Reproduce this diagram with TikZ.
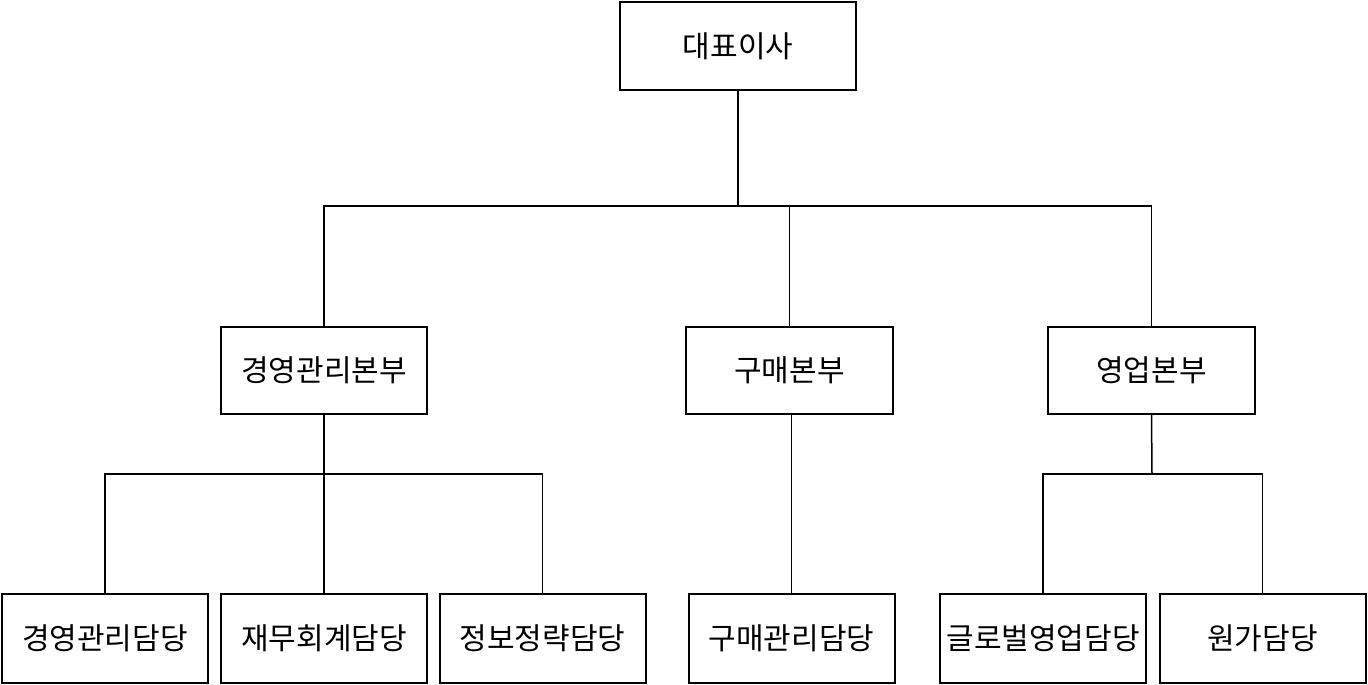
\documentclass[tikz,border=0pt]{standalone}
\usepackage{fontspec}
\newfontfamily\kr{Noto Sans CJK KR}
\begin{document}
\begin{tikzpicture}[x=1pt,y=-1pt,
  box/.style={draw,line width=2pt,inner sep=0pt,font=\kr\fontsize{30}{34}\selectfont},
  ln/.style={line width=1.5pt}]
\useasboundingbox (0,0) rectangle (1368,685);
\node[box,minimum width=236,minimum height=88] (ceo) at (738,46) {대표이사};
\node[box,minimum width=206,minimum height=87] (m1) at (324,370.5) {경영관리본부};
\node[box,minimum width=207,minimum height=87] (m2) at (789.5,370.5) {구매본부};
\node[box,minimum width=207,minimum height=87] (m3) at (1151.5,370.5) {영업본부};
\foreach \n/\x/\t in {b1/105/경영관리담당,b2/324/재무회계담당,b3/542.5/정보정략담당,b4/791.5/구매관리담당,b5/1043/글로벌영업담당,b6/1262.5/원가담당}
  \node[box,minimum width=206,minimum height=89] (\n) at (\x,638.5) {\t};
\coordinate (h1) at (738,206);
\coordinate (h2) at (324,474);
\coordinate (h3) at (1152,474);
\draw[ln] (ceo.south) -- (h1);
\draw[ln] (m1.north) |- (h1) -| (m3.north);
\draw[ln] (h1 -| m2.north) -- (m2.north);
\draw[ln] (m1.south) -- (h2);
\draw[ln] (b1.north) |- (h2) -| (b3.north);
\draw[ln] (h2) -- (b2.north);
\draw[ln] (m2.south -| b4.north) -- (b4.north);
\draw[ln] (m3.south) -- (h3);
\draw[ln] (b5.north) |- (h3) -| (b6.north);
\end{tikzpicture}
\end{document}
